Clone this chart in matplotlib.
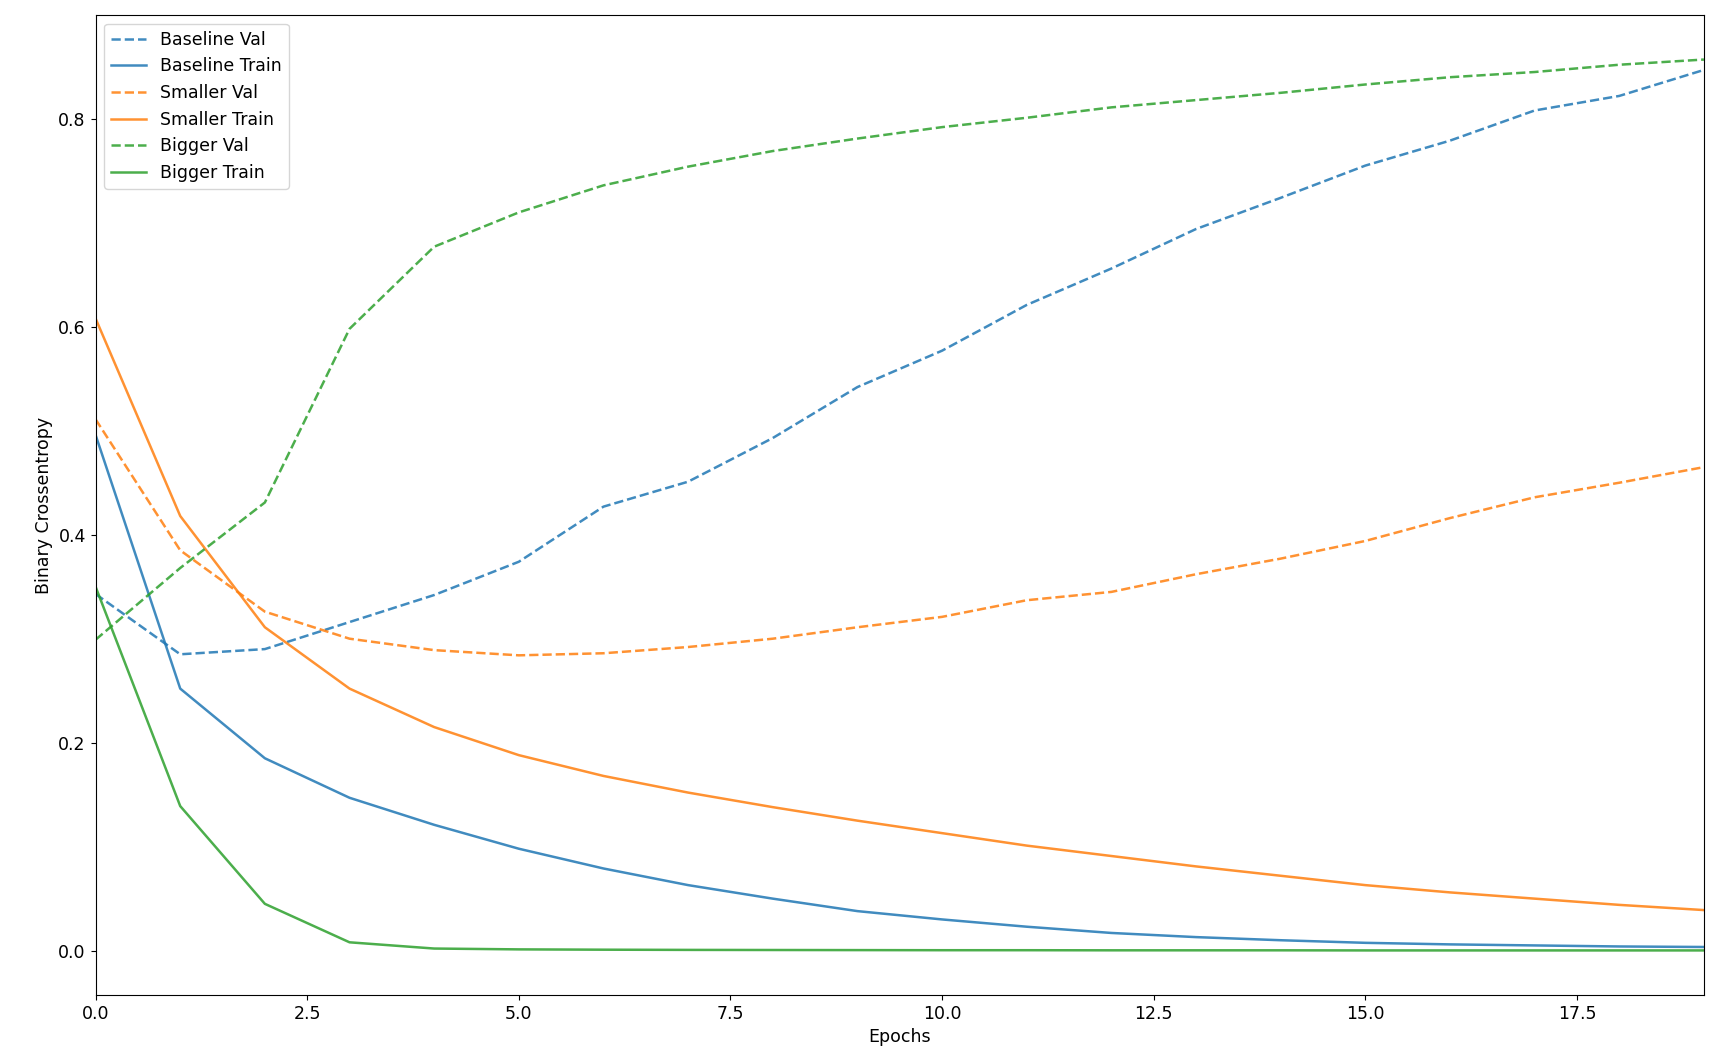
import matplotlib
matplotlib.use("Agg")
import matplotlib.pyplot as plt

epochs = list(range(20))

baseline_val = [0.343, 0.285, 0.290, 0.316, 0.342, 0.374, 0.427, 0.451, 0.493, 0.542,
                0.577, 0.621, 0.656, 0.694, 0.724, 0.755, 0.779, 0.808, 0.822, 0.847]
baseline_train = [0.496, 0.252, 0.185, 0.147, 0.121, 0.098, 0.079, 0.063, 0.050, 0.038,
                  0.030, 0.023, 0.017, 0.013, 0.010, 0.0075, 0.006, 0.005, 0.004, 0.0035]
smaller_val = [0.511, 0.385, 0.326, 0.300, 0.289, 0.284, 0.286, 0.292, 0.300, 0.311,
               0.321, 0.337, 0.345, 0.362, 0.377, 0.394, 0.416, 0.436, 0.450, 0.465]
smaller_train = [0.608, 0.418, 0.311, 0.252, 0.215, 0.188, 0.168, 0.152, 0.138, 0.125,
                 0.113, 0.101, 0.091, 0.081, 0.072, 0.063, 0.056, 0.050, 0.044, 0.039]
bigger_val = [0.299, 0.368, 0.431, 0.598, 0.677, 0.710, 0.736, 0.754, 0.769, 0.781,
              0.792, 0.801, 0.811, 0.818, 0.825, 0.833, 0.840, 0.845, 0.852, 0.857]
bigger_train = [0.350, 0.139, 0.045, 0.008, 0.002, 0.0012, 0.0009, 0.0007, 0.0006, 0.0005,
                0.0004, 0.0004, 0.0003, 0.0003, 0.0003, 0.0002, 0.0002, 0.0002, 0.0002, 0.0002]

histories = [
    ("Baseline", baseline_val, baseline_train),
    ("Smaller", smaller_val, smaller_train),
    ("Bigger", bigger_val, bigger_train),
]

plt.rcParams["font.size"] = 12.5
plt.rcParams["lines.linewidth"] = 1.8

fig = plt.figure(figsize=(17.22, 10.56), dpi=100)
ax = fig.add_axes([0.0555, 0.0578, 0.934, 0.928])

for name, val, train in histories:
    v = ax.plot(epochs, val, "--", alpha=0.85, label=name + " Val")
    ax.plot(epochs, train, color=v[0].get_color(), alpha=0.85, label=name + " Train")

ax.set_xlabel("Epochs")
ax.set_ylabel("Binary Crossentropy")
ax.legend()
ax.set_xlim([0, max(epochs)])

fig.savefig("out.png", dpi=100)
